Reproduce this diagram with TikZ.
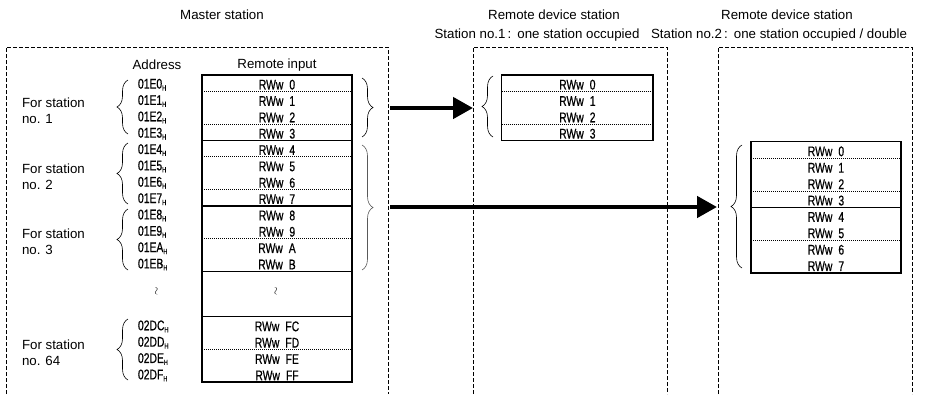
\documentclass[tikz,border=0pt]{standalone}
\usepackage{fontspec}
\setmainfont{Liberation Sans}
\newfontfamily\tabfont[FakeStretch=0.74,FakeBold=0.6]{Liberation Sans}
\usetikzlibrary{arrows.meta,decorations.pathreplacing}
\newcommand\hsub{\raisebox{-2pt}{\fontsize{7.5}{8}\selectfont H}}
\newcommand\vtilde{\rotatebox{90}{\fontsize{11}{11}\selectfont$\sim$}}
\begin{document}
\begin{tikzpicture}[x=1pt,y=-1pt,
  every node/.style={inner sep=0pt,outer sep=0pt},
  lbl/.style={font=\fontsize{13.3}{14}\selectfont},
  cell/.style={font=\tabfont\fontsize{14}{15}\selectfont,minimum width=150pt,minimum height=16.35pt,anchor=north west,yshift=-1.5pt},
  addr/.style={font=\tabfont\fontsize{14}{15}\selectfont,anchor=west},
  frame/.style={dash pattern=on 4pt off 2pt,line width=0.7pt},
  tabborder/.style={line width=1.5pt},
  thicksep/.style={line width=1.5pt},
  thinsep/.style={line width=0.7pt},
  dotsep/.style={line width=0.8pt,dash pattern=on 1pt off 1pt},
  brc/.style={decorate,decoration={brace,amplitude=11pt},line width=0.6pt},
  bigarrow/.style={line width=4.5pt,-{Triangle[length=20pt,width=21pt]}}]
\useasboundingbox (0,0) rectangle (940,394);

% titles
\node[lbl] (tmaster) at (222,15) {Master station};
\node[lbl] (tr1) at (554,15) {Remote device station};
\node[lbl] (tr2) at (787,15) {Remote device station};
\node[lbl] (sr1) at (537,35) {Station no.1\,:\hspace{6pt}one station occupied};
\node[lbl] (sr2) at (779,35) {Station no.2\,:\hspace{6pt}one station occupied / double};
\node[lbl] (taddr) at (157,65) {Address};
\node[lbl] (tin) at (277,65) {Remote input};

% dashed frames
\draw[frame] (6,394) -- (6,47) -- (388,47) -- (388,394);
\draw[frame] (473,394) -- (473,47) -- (667,47) -- (667,394);
\draw[frame] (718,394) -- (718,47) -- (912,47) -- (912,394);

% master table rows
\foreach \t [count=\i from 0] in {0,1,2,3,4,5,6,7,8,9,A,B}
  \node[cell] (m\i) at (202,{75+16.35*\i}) {RWw\hspace{6pt}\t};
\foreach \t [count=\i from 0] in {FC,FD,FE,FF}
  \node[cell] (mf\i) at (202,{316.7+16.35*\i}) {RWw\hspace{6pt}\t};
\node (mtil) at (276.7,291) {\vtilde};
\draw[tabborder] (202,75) rectangle (352,382.1);
\foreach \r in {1,3,5,7,10}
  \draw[dotsep] (202,{75+16.35*\r}) -- (352,{75+16.35*\r});
\foreach \r in {4,8}
  \draw[thicksep] (202,{75+16.35*\r}) -- (352,{75+16.35*\r});
\draw[thinsep] (202,271.2) -- (352,271.2);
\draw[thinsep] (202,316.7) -- (352,316.7);
\draw[dotsep] (202,349.4) -- (352,349.4);

% addresses
\foreach \t [count=\i from 0] in {01E0,01E1,01E2,01E3,01E4,01E5,01E6,01E7,01E8,01E9,01EA,01EB}
  \node[addr] (ad\i) at (138,{75+16.35*(\i+0.5)+1.5}) {\t\hsub};
\foreach \t [count=\i from 0] in {02DC,02DD,02DE,02DF}
  \node[addr] (adf\i) at (138,{316.7+16.35*(\i+0.5)+1.5}) {\t\hsub};
\node (atil) at (157,291) {\vtilde};

% address braces
\draw[brc] (128,134) -- (128,80);
\draw[brc] (128,204) -- (128,143);
\draw[brc] (128,270) -- (128,209);
\draw[brc] (128,380) -- (128,319);

% station labels
\foreach \c/\n in {107.6/1,173/2,238.5/3,349/64}{
  \node[lbl,anchor=west] (fs\n) at (22,\c-4.5) {For station};
  \node[lbl,anchor=west] (fn\n) at (22,\c+11.5) {no. \n};
}

% master right braces
\draw[brc] (362,78) -- (362,137);
\draw[brc,draw=black!65] (362,145) -- (362,270);

% remote 1 table
\foreach \t [count=\i from 0] in {0,1,2,3}
  \node[cell,minimum width=151.3pt] (r\i) at (501.7,{75+16.35*\i}) {RWw\hspace{6pt}\t};
\draw[tabborder] (501.7,75) rectangle (653,140.4);
\foreach \r in {1,3}
  \draw[dotsep] (501.7,{75+16.35*\r}) -- (653,{75+16.35*\r});
\draw[brc] (493,137) -- (493,76);

% remote 2 table
\foreach \t [count=\i from 0] in {0,1,2,3,4,5,6,7}
  \node[cell] (s\i) at (751,{141.7+16.4*\i}) {RWw\hspace{6pt}\t};
\draw[tabborder] (751,141.7) rectangle (901,272.9);
\foreach \r in {1,3,6}
  \draw[dotsep] (751,{141.7+16.4*\r}) -- (901,{141.7+16.4*\r});
\draw[thicksep] (751,{141.7+16.4*4}) -- (901,{141.7+16.4*4});
\draw[brc] (742,268) -- (742,145);

% arrows
\coordinate (a1s) at (390,108);
\coordinate (a1e) at (473,108);
\coordinate (a2s) at (390,207);
\coordinate (a2e) at (717,207);
\draw[bigarrow] (a1s) -- (a1e);
\draw[bigarrow] (a2s) -- (a2e);
\end{tikzpicture}
\end{document}
